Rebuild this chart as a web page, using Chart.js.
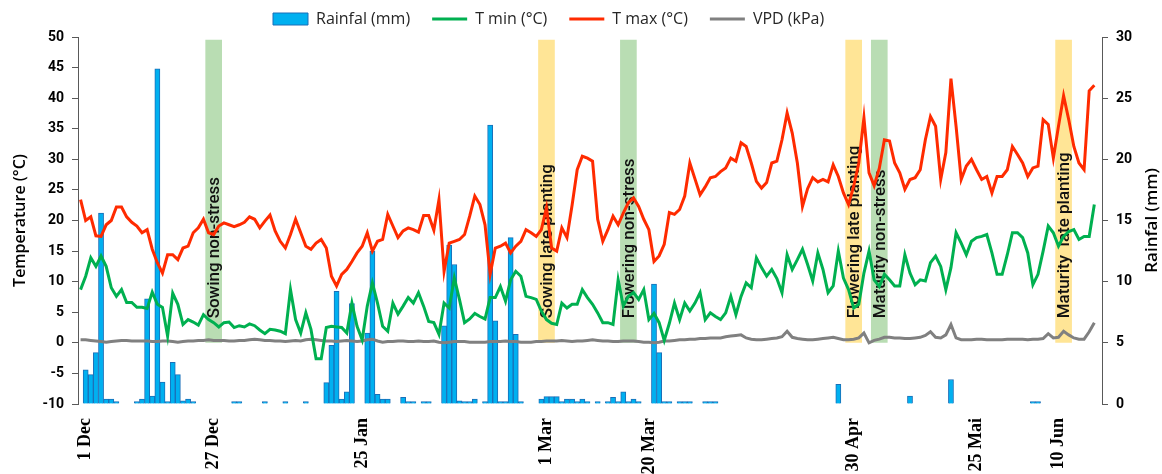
<!DOCTYPE html>
<html>
<head>
<meta charset="utf-8">
<script src="https://cdn.jsdelivr.net/npm/chart.js@4.4.1/dist/chart.umd.min.js"></script>
<style>
  html, body { margin: 0; padding: 0; background: #fff; }
  #wrap { width: 1162px; height: 474px; }
</style>
</head>
<body>
<div id="wrap"><canvas id="myChart" width="1162" height="474"></canvas></div>
<script>
// one category per day, starting 1 Dec
const dayCount = 200;
const days = [];
for (let i = 0; i < dayCount; i++) {
    const d = new Date(2019, 11, 1 + i);
    days.push(d.getDate() + '.' + (d.getMonth() + 1));
}

// tick labels shown under the x axis
const tickLabels = ['1 Dec', '27 Dec', '25 Jan', '1 Mar', '20 Mar', '30 Apr', '25 Mai', '10 Jun'];
const tickAt = [1, 26, 55, 91, 111, 151, 175, 191];

const tMax = [
    23.4, 20.0, 20.6, 17.5, 17.4, 19.3, 20.0, 22.2, 22.2, 20.6,
    19.7, 19.1, 18.0, 18.5, 15.3, 13.1, 11.4, 14.4, 14.4, 13.6,
    15.5, 15.8, 18.0, 18.8, 20.2, 18.0, 17.7, 19.1, 19.6, 19.3,
    19.0, 19.3, 19.7, 20.6, 20.2, 18.8, 19.9, 20.9, 18.3, 16.6,
    15.5, 17.7, 20.2, 18.0, 15.8, 15.3, 16.3, 16.9, 15.5, 10.9,
    9.3, 11.2, 12.0, 13.3, 14.7, 15.8, 18.0, 15.0, 16.6, 16.9,
    21.0, 19.1, 17.2, 18.3, 18.8, 18.5, 18.1, 20.8, 20.8, 18.4,
    23.4, 11.7, 16.3, 16.6, 16.9, 17.7, 20.7, 24.0, 22.6, 19.3,
    11.2, 15.5, 15.8, 16.3, 14.7, 15.8, 16.6, 18.5, 18.0, 17.4,
    18.5, 22.1, 15.5, 15.0, 18.8, 17.2, 22.5, 28.3, 30.5, 30.2,
    29.7, 20.2, 16.6, 18.5, 20.7, 19.3, 21.2, 22.9, 23.7, 22.3,
    20.2, 18.5, 13.3, 14.2, 16.1, 21.3, 21.0, 21.8, 24.0, 29.4,
    26.8, 24.2, 25.5, 27.0, 27.2, 28.0, 28.6, 30.2, 29.7, 32.7,
    32.1, 29.4, 26.4, 25.3, 26.2, 29.4, 29.7, 33.2, 37.6, 34.3,
    29.4, 22.3, 25.2, 27.0, 26.3, 26.7, 26.3, 29.1, 27.2, 24.5,
    22.6, 25.6, 29.4, 36.8, 27.8, 25.7, 28.5, 33.2, 33.0, 29.4,
    27.8, 25.1, 26.7, 27.0, 28.3, 33.2, 37.0, 35.4, 26.7, 31.1,
    43.2, 35.4, 26.7, 28.9, 30.0, 28.3, 26.7, 27.2, 24.5, 27.2,
    27.2, 28.3, 32.1, 30.8, 29.4, 27.2, 28.6, 28.9, 36.5, 35.7,
    30.2, 35.4, 40.4, 36.5, 32.1, 29.4, 28.3, 41.2, 42.1
];

const tMin = [
    8.7, 10.9, 13.9, 12.5, 14.2, 12.5, 9.0, 7.6, 8.7, 6.6,
    6.6, 5.8, 5.8, 5.6, 8.3, 6.3, 5.8, 1.1, 8.1, 6.3,
    3.0, 3.8, 3.4, 2.9, 4.6, 3.8, 3.3, 2.6, 3.3, 3.4,
    2.5, 2.8, 2.6, 3.1, 2.8, 2.1, 1.5, 2.2, 2.1, 1.9,
    1.5, 8.7, 3.8, 1.6, 4.9, 2.2, -2.6, -2.6, 2.5, 2.7,
    2.6, 2.5, 1.6, 6.5, 2.7, 0.5, 6.0, 9.8, 6.5, 2.7,
    1.9, 6.5, 4.7, 6.0, 7.4, 6.5, 8.2, 6.0, 3.5, 3.3,
    1.4, 6.5, 5.7, 10.6, 7.1, 3.3, 3.9, 4.8, 4.3, 3.9,
    7.4, 7.4, 9.2, 6.8, 10.3, 11.7, 10.9, 7.6, 7.4, 7.1,
    5.2, 3.8, 3.2, 3.0, 6.5, 5.7, 6.3, 6.3, 8.7, 7.4,
    6.3, 4.9, 3.3, 3.3, 3.0, 10.3, 6.0, 7.6, 8.2, 7.1,
    8.7, 3.8, 4.8, 3.3, 0.4, 3.2, 6.5, 3.8, 6.5, 5.2,
    6.5, 8.2, 3.8, 4.9, 4.3, 3.8, 4.9, 7.6, 4.6, 7.6,
    9.8, 9.0, 13.9, 12.3, 10.9, 12.0, 10.5, 8.2, 14.4, 12.0,
    13.6, 15.3, 12.8, 10.1, 14.7, 12.0, 8.2, 9.3, 15.0, 10.6,
    8.7, 5.7, 6.3, 11.4, 15.0, 10.3, 9.2, 11.2, 10.3, 9.3,
    9.3, 14.4, 11.4, 9.5, 10.3, 10.1, 13.1, 14.2, 12.5, 8.7,
    12.3, 18.0, 16.3, 14.4, 16.6, 17.2, 17.4, 17.7, 14.7, 11.2,
    11.2, 14.4, 18.0, 18.0, 17.2, 14.7, 9.5, 11.2, 15.0, 19.1,
    18.0, 15.8, 17.4, 18.2, 18.5, 16.9, 17.4, 17.4, 22.6
];

const vpd = [
    0.5, 0.5, 0.4, 0.3, 0.2, 0.1, 0.2, 0.3, 0.4, 0.4,
    0.3, 0.3, 0.3, 0.3, 0.2, 0.2, 0.3, 0.3, 0.2, 0.1,
    0.2, 0.3, 0.3, 0.4, 0.4, 0.5, 0.4, 0.4, 0.4, 0.3,
    0.3, 0.4, 0.4, 0.5, 0.6, 0.5, 0.4, 0.4, 0.3, 0.3,
    0.2, 0.3, 0.4, 0.3, 0.5, 0.6, 0.5, 0.4, 0.3, 0.3,
    0.2, 0.3, 0.4, 0.3, 0.2, 0.3, 0.5, 0.6, 0.3, 0.1,
    0.2, 0.2, 0.3, 0.3, 0.2, 0.2, 0.3, 0.2, 0.2, 0.3,
    0.1, 0.0, 0.1, 0.2, 0.2, 0.2, 0.1, 0.1, 0.1, 0.1,
    0.2, 0.2, 0.2, 0.3, 0.2, 0.2, 0.1, 0.1, 0.1, 0.2,
    0.2, 0.3, 0.3, 0.3, 0.4, 0.3, 0.2, 0.3, 0.3, 0.4,
    0.5, 0.4, 0.3, 0.3, 0.2, 0.2, 0.3, 0.3, 0.3, 0.2,
    0.1, 0.1, 0.0, 0.1, 0.3, 0.3, 0.4, 0.5, 0.5, 0.6,
    0.6, 0.7, 0.7, 0.8, 0.8, 0.8, 1.0, 1.1, 1.2, 1.3,
    0.8, 0.6, 0.5, 0.5, 0.6, 0.7, 0.8, 1.0, 1.9, 0.9,
    0.7, 0.6, 0.5, 0.5, 0.6, 0.7, 0.8, 0.9, 0.7, 0.5,
    0.5, 0.6, 0.8, 1.6, 0.0, 0.4, 0.6, 0.9, 0.9, 0.8,
    0.8, 0.7, 0.7, 0.8, 0.9, 1.2, 1.8, 0.9, 0.8, 1.3,
    3.0, 0.8, 0.5, 0.5, 0.5, 0.6, 0.6, 0.5, 0.5, 0.5,
    0.5, 0.6, 0.6, 0.6, 0.6, 0.5, 0.6, 0.6, 0.7, 1.5,
    0.8, 0.9, 1.9, 1.3, 0.8, 0.6, 0.6, 1.8, 3.3
];

// rain days (index from 1 Dec) and amounts in mm
const rainDay = [1, 2, 3, 4, 5, 6, 7, 11, 12, 13, 14, 15, 16, 17, 18, 19, 20, 21, 22,
    30, 31, 36, 40, 44, 48, 49, 50, 51, 52, 53, 56, 57, 58, 59, 60, 63, 64, 65, 67, 68,
    71, 72, 73, 74, 75, 76, 77, 79, 80, 81, 82, 83, 84, 85, 86,
    90, 91, 92, 93, 94, 95, 96, 97, 98, 99, 101, 103, 104, 105, 106, 107, 108, 109,
    112, 113, 114, 115, 117, 118, 119, 122, 123, 124, 148, 162, 170, 186, 187];
const rainMm = [2.8, 2.4, 4.2, 15.6, 0.4, 0.4, 0.2, 0.2, 0.4, 8.6, 0.65, 27.4, 1.8, 0.2, 3.4, 2.4, 0.25, 0.4, 0.2,
    0.2, 0.2, 0.2, 0.2, 0.2, 1.75, 4.8, 9.2, 0.4, 1.0, 8.2, 5.8, 12.5, 0.8, 0.4, 0.4, 0.55, 0.2, 0.2, 0.2, 0.2,
    6.4, 13.0, 11.4, 0.25, 0.2, 0.2, 0.4, 0.2, 22.8, 6.8, 0.2, 0.2, 13.6, 5.7, 0.2,
    0.4, 0.6, 0.6, 0.6, 0.2, 0.4, 0.4, 0.2, 0.4, 0.2, 0.2, 0.2, 0.55, 0.2, 1.0, 0.2, 0.4, 0.2,
    9.8, 4.2, 0.2, 0.2, 0.2, 0.2, 0.2, 0.2, 0.2, 0.2, 1.6, 0.64, 2.0, 0.2, 0.2];

// growth stage markers
const bandAt = [26, 91, 107, 151, 156, 192];
const bandText = ['Sowing non-stress', 'Sowing late planting', 'Flowering non-stress',
    'Flowering late planting', 'Maturity non-stress', 'Maturity  late planting'];
const bandKind = ['non', 'late', 'non', 'late', 'non', 'late'];
const bandTop = 49.5;
const bandTextFrom = 4;

const bandFill = { non: '#B9DDB3', late: '#FFE596' };

const rain = days.map(() => null);
rainDay.forEach((d, k) => { rain[d] = rainMm[k]; });
const bands = days.map(() => null);
bandAt.forEach(d => { bands[d] = [0, bandTop]; });

const axisColor = '#595959';
const tickFont = { family: 'Roboto', size: 14, weight: '700' };

// draws the rotated text inside each stage band, right after the bands
const bandLabels = {
    id: 'bandLabels',
    afterDatasetDraw(chart, args) {
        if (args.index !== 4) return;
        const ctx = chart.ctx;
        const y0 = chart.scales.y.getPixelForValue(bandTextFrom);
        args.meta.data.forEach((bar, i) => {
            const k = bandAt.indexOf(i);
            if (k < 0) return;
            ctx.save();
            ctx.translate(bar.x, y0);
            ctx.rotate(-Math.PI / 2);
            ctx.font = '500 17px Roboto';
            ctx.fillStyle = '#111';
            ctx.textAlign = 'left';
            ctx.textBaseline = 'middle';
            ctx.fillText(bandText[k], 0, 1);
            ctx.restore();
        });
    }
};

// right axis title reads bottom to top, like the left one
const rightTitle = {
    id: 'rightTitle',
    afterDraw(chart) {
        const ctx = chart.ctx, a = chart.chartArea;
        ctx.save();
        ctx.translate(1152, (a.top + a.bottom) / 2);
        ctx.rotate(-Math.PI / 2);
        ctx.font = '600 17px "Open Sans"';
        ctx.fillStyle = '#000';
        ctx.textAlign = 'center';
        ctx.textBaseline = 'middle';
        ctx.fillText('Rainfal (mm)', 0, 0);
        ctx.restore();
    }
};

// legend sits left of centre in the original
const legendShift = {
    id: 'legendShift',
    afterLayout(chart) {
        chart.legend.left = 273 - chart.options.plugins.legend.labels.padding;
    }
};

const ctx = document.getElementById('myChart').getContext('2d');
const myChart = new Chart(ctx, {
    type: 'bar',
    data: {
        labels: days,
        datasets: [
            {
                type: 'bar',
                label: 'Rainfal (mm)',
                data: rain,
                yAxisID: 'y1',
                backgroundColor: '#00B0F0',
                borderColor: '#1A6FB8',
                borderWidth: 1,
                barPercentage: 1,
                categoryPercentage: 1,
                grouped: false,
                pointStyle: 'rect',
                order: 4
            },
            {
                type: 'line',
                label: 'T min (°C)',
                data: tMin,
                yAxisID: 'y',
                borderColor: '#00B050',
                backgroundColor: '#00B050',
                borderWidth: 3,
                pointRadius: 0,
                tension: 0,
                pointStyle: 'line',
                order: 1
            },
            {
                type: 'line',
                label: 'T max (°C)',
                data: tMax,
                yAxisID: 'y',
                borderColor: '#FF2B00',
                backgroundColor: '#FF2B00',
                borderWidth: 3,
                pointRadius: 0,
                tension: 0,
                pointStyle: 'line',
                order: 2
            },
            {
                type: 'line',
                label: 'VPD (kPa)',
                data: vpd,
                yAxisID: 'y',
                borderColor: '#808080',
                backgroundColor: '#808080',
                borderWidth: 3,
                pointRadius: 0,
                tension: 0,
                pointStyle: 'line',
                order: 3
            },
            {
                type: 'bar',
                label: 'stages',
                data: bands,
                yAxisID: 'y',
                backgroundColor: c => bandFill[bandKind[bandAt.indexOf(c.dataIndex)]] || 'rgba(0,0,0,0)',
                borderWidth: 0,
                barThickness: 16,
                grouped: false,
                order: 5
            }
        ]
    },
    options: {
        responsive: false,
        animation: false,
        layout: { padding: { top: -11, left: 0, right: 0, bottom: 0 } },
        plugins: {
            tooltip: { enabled: false },
            legend: {
                position: 'top',
                align: 'start',
                labels: {
                    usePointStyle: true,
                    pointStyleWidth: 35,
                    boxHeight: 12,
                    padding: 22,
                    color: '#262626',
                    font: { family: 'Open Sans', size: 16 },
                    filter: item => item.datasetIndex < 4,
                    sort: (a, b) => a.datasetIndex - b.datasetIndex
                }
            }
        },
        scales: {
            x: {
                type: 'category',
                offset: true,
                grid: { display: false, drawTicks: false },
                border: { display: false },
                afterFit: s => { s.height = 70; },
                ticks: {
                    autoSkip: false,
                    minRotation: 90,
                    maxRotation: 90,
                    padding: 14,
                    color: '#000',
                    font: { family: 'Liberation Serif', size: 18, weight: 'bold' },
                    callback: (v, i) => {
                        const k = tickAt.indexOf(i);
                        return k < 0 ? '' : tickLabels[k];
                    }
                }
            },
            y: {
                position: 'left',
                min: -10,
                max: 50,
                afterFit: s => { s.width = 78; },
                ticks: { stepSize: 5, padding: 8, color: '#000', font: tickFont },
                grid: { drawOnChartArea: false, tickLength: 6, color: axisColor },
                border: { display: true, color: axisColor, width: 1 },
                title: {
                    display: true,
                    text: 'Temperature (°C)',
                    color: '#000',
                    padding: { top: 11, bottom: 0 },
                    font: { family: 'Open Sans', size: 16, weight: '600' }
                }
            },
            y1: {
                position: 'right',
                min: 0,
                max: 30,
                afterFit: s => { s.width = 60; },
                ticks: { stepSize: 5, padding: 8, color: '#000', font: tickFont },
                grid: { drawOnChartArea: false, tickLength: 6, color: axisColor },
                border: { display: true, color: axisColor, width: 1 }
            }
        }
    },
    plugins: [bandLabels, rightTitle, legendShift]
});
</script>
</body>
</html>
